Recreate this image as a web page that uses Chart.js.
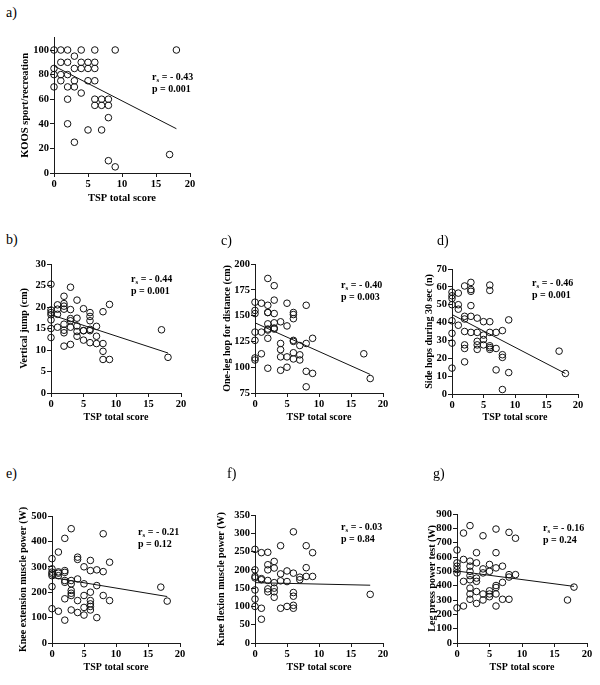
<!DOCTYPE html>
<html><head><meta charset="utf-8">
<script src="https://cdn.jsdelivr.net/npm/chart.js@4"></script>
<style>
body{margin:0;background:#fff;width:600px;height:685px;position:relative;overflow:hidden;font-family:"Liberation Serif","Times New Roman",serif;color:#000;}
canvas{position:absolute;}
.lbl{position:absolute;font-size:14px;line-height:14px;}
.stat{position:absolute;font-weight:bold;font-size:10px;line-height:12px;white-space:nowrap;}
.stat sub{font-size:7px;vertical-align:-2px;line-height:0;}
</style></head><body>
<script>
// ---------- data ----------
const xTicks = [0, 5, 10, 15, 20];
const fitX = [0, 18];

const aX = [0,1,2,4,6,9,18, 1,2,3,4,5,6, 0,3,4,5,6, 0,1,2, 1,3,5,6, 0,2,3, 4, 2,6,7,8, 6,7,8, 8, 2, 5,7, 3, 17, 8, 9];
const aY = [100,100,100,100,100,100,100, 90,90,95,90,90,90, 85,85,85,85,85, 80,80,80, 75,75,75,75, 70,70,70, 65, 60,60,60,60, 55,55,55, 45, 40, 35,35, 25, 15, 10, 5];
const aFit = [87, 36];
const aYTicks = [0, 20, 40, 60, 80, 100];
const aStat = ['- 0.43', '0.001'];

const bX = [0,0,0,0,0,0,0, 1,1,1,1, 2,2,2,2,2,2,2,2, 3,3,3,3,3,3, 4,4,4,4,4, 5,5,5,5, 6,6,6,6,6,6, 7,7,7, 8,8,8,8, 9,9, 17, 18];
const bY = [25.3,19.3,18.7,18.2,17,15,12.9, 20.5,19.5,18.3,15.3, 22.5,20.8,20.2,19.5,16,14.6,14,10.9, 24.6,19.4,17.3,16.8,15.3,11.3, 21.6,17.4,15.6,14.3,13.2, 19.6,14.5,14.5,12.3, 18.7,17.8,16.8,14.8,14.5,11.7, 15.5,13.2,11.5, 18.9,11.5,9.7,7.8, 20.6,7.8, 14.7, 8.3];
const bFit = [18.2, 9.3];
const bYTicks = [0, 5, 10, 15, 20, 25, 30];
const bStat = ['- 0.44', '0.001'];

const cX = [0,0,0,0,0,0,0, 1,1,1, 2,2,2,2,2,2,2,2,2, 3,3,3,3,3,3, 4,4,4,4,4, 5,5,5,5, 6,6,6,6,6,6,6, 7,7,7, 8,8,8,8, 9,9, 17, 18];
const cY = [163,155,152,134,126,109,107, 162,134,113, 186,160,153,153,142,137,136,128,99, 179,165,152,143,138,137, 144,123,117,110,97, 162,140,110,100, 153,151,147,126,125,114,108, 121,112,107, 160,123,96,81, 128,94, 113, 89];
const cFit = [143, 93];
const cYTicks = [75, 100, 125, 150, 175, 200];
const cStat = ['- 0.40', '0.003'];

const dX = [0,0,0,0,0,0,0,0, 1,1,1,1, 2,2,2,2,2,2,2, 3,3,3,3,3,3, 4,4,4,4,4, 5,5,5,5, 6,6,6,6,6,6,6, 7,7,7, 8,8,8,8, 9,9, 17, 18];
const dY = [57,55,53.5,50,41,34,28.5,14.5, 56.5,50,47.5,38.5, 60.5,43.5,42,35,27.5,25.5,18, 62.5,58.5,57.5,49.5,43.5,34.5, 42.5,34.5,29.5,27.5,25, 40.5,33,30.5,27.5, 61,58,40.5,34.5,27,26,25, 34.5,25.5,13.5, 35.5,22,20.5,2.5, 41.5,12, 24, 11.5];
const dFit = [44.5, 11.5];
const dYTicks = [0, 10, 20, 30, 40, 50, 60, 70];
const dStat = ['- 0.46', '0.001'];

const eX = [0,0,0,0,0,0,0, 1,1,1,1,1, 2,2,2,2,2,2,2, 3,3,3,3,3,3,3, 4,4,4,4,4, 5,5,5,5,5, 6,6,6,6,6,6,6, 7,7,7, 8,8,8, 9,9, 17, 18];
const eY = [332,292,279,272,265,222,135, 358,280,275,265,125, 412,285,278,246,239,174,90, 450,246,233,207,196,187,130, 338,329,252,167,120, 300,233,187,140,110, 325,285,200,167,154,144,130, 288,226,100, 430,281,187, 318,167, 220, 165];
const eFit = [258, 183];
const eYTicks = [0, 100, 200, 300, 400, 500];
const eStat = ['- 0.21', '0.12'];

const fX = [0,0,0,0,0,0,0, 1,1,1,1,1, 2,2,2,2,2,2, 3,3,3,3,3,3, 4,4,4,4, 5,5,5, 6,6,6,6,6,6, 7,7, 8,8,8, 9,9, 18];
const fY = [256,200,182,178,145,120,100, 247,176,173,95,65, 248,214,200,171,148,140, 223,205,165,150,140,125, 266,189,170,95, 197,168,100, 304,191,138,128,103,95, 180,173, 266,206,182, 247,182, 133];
const fFit = [165, 158];
const fYTicks = [0, 50, 100, 150, 200, 250, 300, 350];
const fStat = ['- 0.03', '0.84'];

const gX = [0,0,0,0,0,0, 1,1,1,1, 2,2,2,2,2,2,2,2,2, 3,3,3,3,3,3, 4,4,4,4,4, 5,5,5,5,5, 6,6,6,6,6,6,6, 7,7,7, 8,8,8,8, 9,9, 17, 18];
const gY = [649,559,536,512,489,245, 767,583,430,258, 819,571,536,500,470,441,383,342,305, 630,559,453,430,359,276, 748,517,489,342,300, 548,500,364,342,323, 795,630,524,401,387,342,258, 536,423,305, 772,477,460,305, 731,477, 300, 390];
const gFit = [502, 395];
const gYTicks = [0, 100, 200, 300, 400, 500, 600, 700, 800, 900];
const gStat = ['- 0.16', '0.24'];

// ---------- layout ----------
const FONT = '"Liberation Serif", "Times New Roman", serif';
const panels = [
  {id:'a', xs:aX, ys:aY, fit:aFit, yTicks:aYTicks, stat:aStat, yTitle:'KOOS sport/recreation', yMin:0, yMax:110,
   px0:54, px1:190, pyTop:37.7, pyBot:173, yTitleX:25, xTitleY:198, tSize:10.5, lblX:6, lblY:6, statX:152, statY:71},
  {id:'b', xs:bX, ys:bY, fit:bFit, yTicks:bYTicks, stat:bStat, yTitle:'Vertical jump (cm)', yMin:0, yMax:30,
   px0:51, px1:181, pyTop:264, pyBot:393, yTitleX:24.5, xTitleY:417, tSize:10, lblX:6, lblY:233, statX:131, statY:273},
  {id:'c', xs:cX, ys:cY, fit:cFit, yTicks:cYTicks, stat:cStat, yTitle:'One-leg hop for distance (cm)', yMin:75, yMax:200,
   px0:255, px1:383, pyTop:264, pyBot:393, yTitleX:227, xTitleY:417, tSize:10, lblX:221, lblY:234, statX:341, statY:279},
  {id:'d', xs:dX, ys:dY, fit:dFit, yTicks:dYTicks, stat:dStat, yTitle:'Side hops during 30 sec (n)', yMin:0, yMax:70,
   px0:452, px1:578, pyTop:269, pyBot:394, yTitleX:429.5, xTitleY:417, tSize:10, lblX:437, lblY:234, statX:532, statY:277},
  {id:'e', xs:eX, ys:eY, fit:eFit, yTicks:eYTicks, stat:eStat, yTitle:'Knee extension muscle power (W)', yMin:0, yMax:500,
   px0:52, px1:180, pyTop:516, pyBot:643, yTitleX:23, xTitleY:667, tSize:10, lblX:6, lblY:467, statX:138, statY:526},
  {id:'f', xs:fX, ys:fY, fit:fFit, yTicks:fYTicks, stat:fStat, yTitle:'Knee flexion muscle power (W)', yMin:0, yMax:350,
   px0:255, px1:383, pyTop:515, pyBot:643, yTitleX:221, xTitleY:667, tSize:10, lblX:227, lblY:467, statX:341, statY:521},
  {id:'g', xs:gX, ys:gY, fit:gFit, yTicks:gYTicks, stat:gStat, yTitle:'Leg press power test (W)', yMin:0, yMax:900,
   px0:457, px1:587, pyTop:514, pyBot:643, yTitleX:432.5, xTitleY:667, tSize:10, lblX:433, lblY:467, statX:543, statY:522}
];

const AXIS = '#1a1a1a';
function axisCommon() {
  return {
    grid: {display:true, drawOnChartArea:false, drawTicks:true, tickLength:4, color:AXIS, lineWidth:1},
    border: {display:true, color:AXIS, width:1},
    ticks: {font:{family:FONT, size:10.5, weight:'bold'}, color:'#000', padding:1, autoSkip:false, maxRotation:0}
  };
}

function makePanel(p) {
  const half = p.tSize * 0.6;
  const L = Math.floor(p.yTitleX - half);
  const T = Math.floor(p.pyTop - 12);
  const R = Math.ceil(p.px1 + 14);
  const B = Math.ceil(p.xTitleY + half);
  const padL = (p.yTitleX - half) - L;
  const padB = B - (p.xTitleY + half);
  const padT = p.pyTop - T;
  const padR = R - p.px1;
  const yW = p.px0 - L - padL;
  const xH = (p.xTitleY + half) - p.pyBot;

  const cv = document.createElement('canvas');
  cv.width = R - L; cv.height = B - T;
  cv.style.left = L + 'px'; cv.style.top = T + 'px';
  cv.style.width = (R - L) + 'px'; cv.style.height = (B - T) + 'px';
  document.body.appendChild(cv);

  const pts = p.xs.map((x, i) => ({x: x, y: p.ys[i]}));
  const fitPts = fitX.map((x, i) => ({x: x, y: p.fit[i]}));

  const xs = axisCommon(), ys = axisCommon();
  new Chart(cv, {
    type: 'scatter',
    data: {datasets: [
      {data: pts, pointRadius: 3.3, pointBorderWidth: 1, borderColor: '#111', backgroundColor: 'rgba(255,255,255,0)', clip: false, order: 2},
      {type: 'line', data: fitPts, showLine: true, borderColor: '#111', borderWidth: 1, pointRadius: 0, fill: false, clip: false, order: 1}
    ]},
    options: {
      responsive: false, animation: false, devicePixelRatio: 1,
      layout: {padding: {left: padL, top: padT, right: padR, bottom: padB}},
      plugins: {legend: {display: false}, tooltip: {enabled: false}},
      scales: {
        x: Object.assign(xs, {type: 'linear', min: 0, max: 20,
          afterBuildTicks: s => { s.ticks = xTicks.map(v => ({value: v})); },
          afterFit: s => { s.height = xH; },
          title: {display: true, text: 'TSP total score', font: {family: FONT, size: p.tSize, weight: 'bold'}, color: '#000', padding: 0}}),
        y: Object.assign(ys, {type: 'linear', min: p.yMin, max: p.yMax,
          afterBuildTicks: s => { s.ticks = p.yTicks.map(v => ({value: v})); },
          afterFit: s => { s.width = yW; },
          title: {display: true, text: p.yTitle, font: {family: FONT, size: p.tSize, weight: 'bold'}, color: '#000', padding: 0}})
      }
    }
  });

  const lbl = document.createElement('div');
  lbl.className = 'lbl';
  lbl.style.left = p.lblX + 'px'; lbl.style.top = p.lblY + 'px';
  lbl.textContent = p.id + ')';
  document.body.appendChild(lbl);

  const st = document.createElement('div');
  st.className = 'stat';
  st.style.left = p.statX + 'px'; st.style.top = p.statY + 'px';
  st.innerHTML = 'r<sub>s</sub> = ' + p.stat[0] + '<br>p = ' + p.stat[1];
  document.body.appendChild(st);
}
panels.forEach(makePanel);
</script>
</body></html>
